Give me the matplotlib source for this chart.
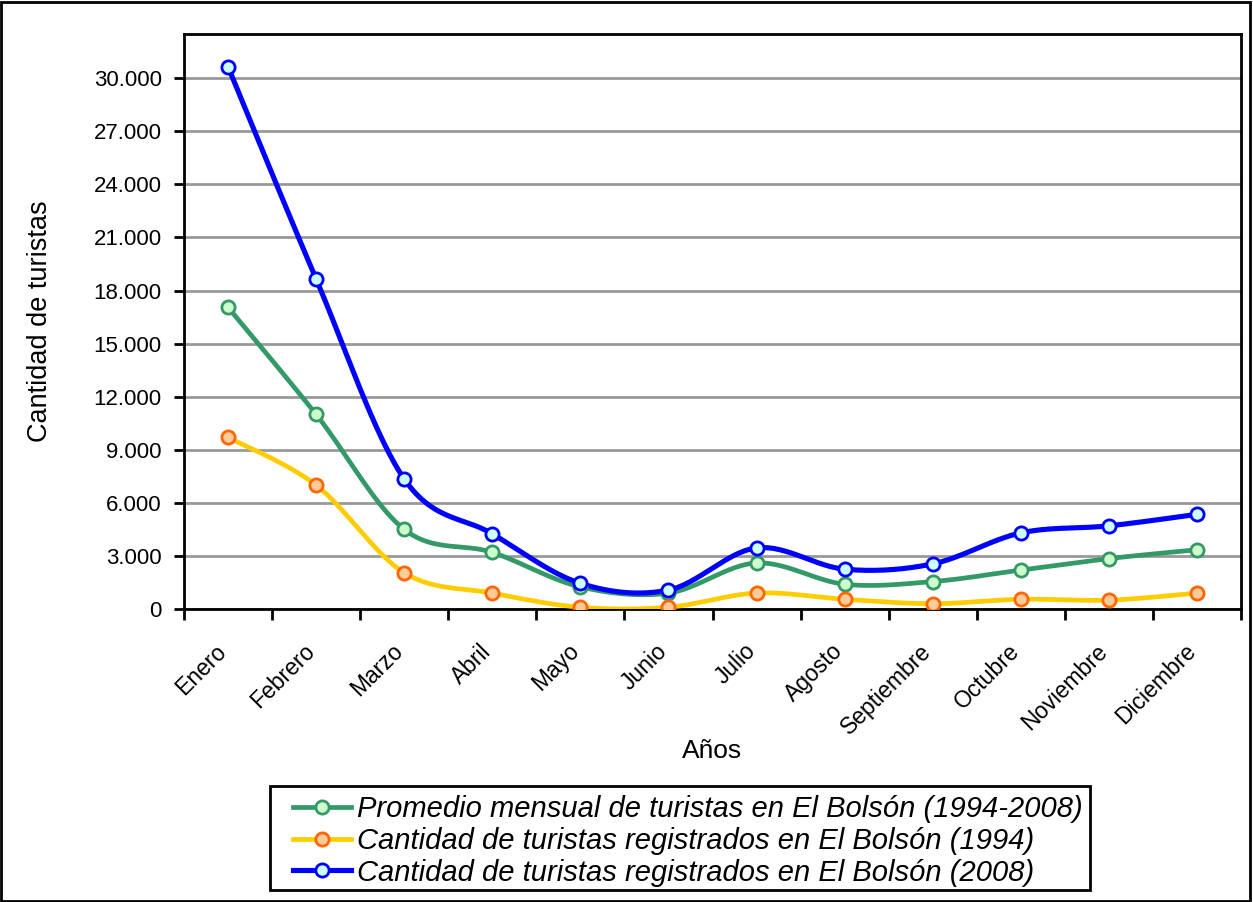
import numpy as np
import matplotlib
matplotlib.use("Agg")
import matplotlib.pyplot as plt
from matplotlib.lines import Line2D
from matplotlib.patches import Rectangle
from matplotlib.ticker import FuncFormatter, FixedLocator
from matplotlib.transforms import ScaledTranslation

plt.rcParams["font.family"] = ["Liberation Sans", "DejaVu Sans"]

meses = ["Enero", "Febrero", "Marzo", "Abril", "Mayo", "Junio", "Julio",
         "Agosto", "Septiembre", "Octubre", "Noviembre", "Diciembre"]
promedio = [17050, 11000, 4500, 3200, 1250, 900, 2600, 1400, 1550, 2200, 2850, 3350]
t1994 = [9700, 7000, 2050, 900, 100, 100, 900, 550, 300, 550, 500, 900]
t2008 = [30650, 18650, 7350, 4250, 1450, 1070, 3450, 2250, 2550, 4300, 4700, 5350]

series = [
    ("Promedio mensual de turistas en El Bolsón (1994-2008)", promedio, "#339966", "#CCFFCC", "#339966", 3.4),
    ("Cantidad de turistas registrados en El Bolsón (1994)", t1994, "#FFCC00", "#FFCC99", "#FF6600", 3.4),
    ("Cantidad de turistas registrados en El Bolsón (2008)", t2008, "#0000FF", "#CCFFFF", "#0000FF", 3.7),
]


def suavizar(x, y, n=30):
    """Curva tipo Excel: Bezier cubica con tangentes de Catmull-Rom."""
    x = np.asarray(x, float); y = np.asarray(y, float)
    px = np.r_[x[0], x, x[-1]]; py = np.r_[y[0], y, y[-1]]
    t = np.linspace(0, 1, n)[:, None]
    xs, ys = [], []
    for i in range(1, len(x)):
        p0 = np.array([px[i], py[i]]); p3 = np.array([px[i + 1], py[i + 1]])
        b1 = p0 + (p3 - np.array([px[i - 1], py[i - 1]])) / 6
        b2 = p3 - (np.array([px[i + 2], py[i + 2]]) - p0) / 6
        c = ((1 - t) ** 3) * p0 + 3 * ((1 - t) ** 2) * t * b1 + 3 * (1 - t) * t ** 2 * b2 + t ** 3 * p3
        xs.append(c[:, 0]); ys.append(c[:, 1])
    return np.concatenate(xs), np.concatenate(ys)


W, H = 1253, 902
fig = plt.figure(figsize=(W / 100, H / 100), dpi=100)
ax = fig.add_axes([184 / W, 1 - 609 / H, (1241 - 184) / W, (609 - 34) / H])
x = np.arange(len(meses))

for nombre, vals, lc, fc, ec, lw in series:
    sx, sy = suavizar(x, vals)
    ax.plot(sx, sy, color=lc, lw=lw, solid_capstyle="round", zorder=3)
    ax.plot(x, vals, ls="none", marker="o", ms=9.5, mfc=fc, mec=ec, mew=2, zorder=4)

ax.set_xlim(-0.5, len(meses) - 0.5)
ax.set_ylim(0, 32500)
ax.yaxis.set_major_locator(FixedLocator(np.arange(0, 30001, 3000)))
ax.yaxis.set_major_formatter(FuncFormatter(lambda v, p: f"{int(v):,}".replace(",", ".")))
ax.grid(axis="y", color="#999999", lw=2)
ax.set_axisbelow(True)

ax.set_xticks(np.arange(len(meses) + 1) - 0.5)
ax.set_xticklabels([])
ax.set_xticks(x, minor=True)
ax.set_xticklabels(meses, minor=True, rotation=45, ha="right", va="top",
                   rotation_mode="anchor", fontsize=16.5)
ax.tick_params(axis="x", which="minor", length=0, pad=22)
ax.tick_params(axis="x", which="major", length=8, width=2, direction="out")
ax.tick_params(axis="y", length=7, width=2, direction="out", labelsize=16, pad=9)
for lbl in ax.get_xticklabels(minor=True):
    lbl.set_transform(lbl.get_transform() + ScaledTranslation(-13 / 100, 0, fig.dpi_scale_trans))
for s in ax.spines.values():
    s.set_linewidth(2); s.set_color("black")

ax.set_ylabel("Cantidad de turistas", fontsize=19.5)
ax.yaxis.set_label_coords(-0.124, 0.5)
ax.set_xlabel("Años", fontsize=19)
ax.xaxis.set_label_coords(0.5, -0.226)

# recuadro de la leyenda
fig.patches.append(Rectangle((270 / W, 1 - 890 / H), 820 / W, 104 / H, transform=fig.transFigure,
                             fill=False, ec="black", lw=2))
handles = [Line2D([], [], color=lc, lw=lw, marker="o", ms=9.5, mfc=fc, mec=ec, mew=2)
           for _, _, lc, fc, ec, lw in series]
leg = fig.legend(handles, [s[0] for s in series], loc="upper left",
                 bbox_to_anchor=(293 / W, 1 - 795 / H),
                 prop={"style": "italic", "size": 21},
                 handlelength=2.0, handletextpad=0.2, labelspacing=0.13,
                 borderpad=0, borderaxespad=0, frameon=False)

fig.patches.append(Rectangle((0.001, 0.001), 0.997, 0.997, transform=fig.transFigure,
                             fill=False, ec="black", lw=2))
fig.savefig("out.png", dpi=100)
